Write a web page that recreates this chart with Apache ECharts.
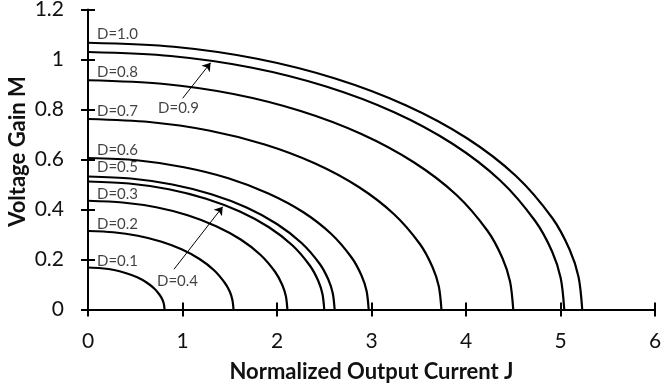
<!DOCTYPE html>
<html>
<head>
<meta charset="utf-8">
<script src="https://cdn.jsdelivr.net/npm/echarts@6/dist/echarts.min.js"></script>
<style>
html,body{margin:0;padding:0;background:#fff;}
#chart{width:661px;height:392px;}
</style>
</head>
<body>
<div id="chart"></div>
<script>
// ---- Data ----
const seriesNames = ['D=0.1','D=0.2','D=0.3','D=0.4','D=0.5','D=0.6','D=0.7','D=0.8','D=0.9','D=1.0'];

const curveD01 = [[0,0.168],[0.141,0.165],[0.277,0.158],[0.405,0.145],[0.521,0.129],[0.620,0.108],[0.701,0.084],[0.761,0.057],[0.789,0.038],[0.804,0.020],[0.81,0]];
const curveD02 = [[0,0.314],[0.267,0.309],[0.527,0.295],[0.770,0.272],[0.990,0.241],[1.180,0.202],[1.334,0.157],[1.447,0.107],[1.501,0.071],[1.528,0.038],[1.54,0]];
const curveD03 = [[0,0.435],[0.366,0.428],[0.722,0.409],[1.055,0.377],[1.356,0.333],[1.616,0.280],[1.827,0.218],[1.983,0.149],[2.056,0.098],[2.094,0.053],[2.11,0]];
const curveD04 = [[0,0.512],[0.434,0.504],[0.855,0.481],[1.250,0.443],[1.607,0.392],[1.915,0.329],[2.165,0.256],[2.349,0.175],[2.436,0.115],[2.481,0.062],[2.50,0]];
const curveD05 = [[0,0.532],[0.453,0.524],[0.893,0.500],[1.305,0.461],[1.678,0.408],[1.999,0.342],[2.260,0.266],[2.453,0.182],[2.543,0.120],[2.590,0.065],[2.61,0]];
const curveD06 = [[0,0.606],[0.516,0.597],[1.016,0.569],[1.485,0.525],[1.909,0.464],[2.275,0.390],[2.572,0.303],[2.791,0.207],[2.894,0.136],[2.948,0.074],[2.97,0]];
const curveD07 = [[0,0.762],[0.649,0.750],[1.279,0.716],[1.870,0.660],[2.404,0.584],[2.865,0.490],[3.239,0.381],[3.514,0.261],[3.644,0.171],[3.712,0.093],[3.74,0]];
const curveD08 = [[0,0.917],[0.781,0.903],[1.539,0.862],[2.250,0.794],[2.893,0.702],[3.447,0.589],[3.897,0.459],[4.229,0.314],[4.385,0.206],[4.466,0.112],[4.50,0]];
const curveD09 = [[0,1.030],[0.875,1.014],[1.724,0.968],[2.520,0.892],[3.240,0.789],[3.861,0.662],[4.365,0.515],[4.736,0.352],[4.911,0.232],[5.002,0.126],[5.04,0]];
const curveD10 = [[0,1.067],[0.908,1.051],[1.789,1.003],[2.615,0.924],[3.362,0.817],[4.006,0.686],[4.529,0.534],[4.915,0.365],[5.096,0.240],[5.191,0.130],[5.23,0]];

const curves = [curveD01,curveD02,curveD03,curveD04,curveD05,curveD06,curveD07,curveD08,curveD09,curveD10];

// Curve labels: text with anchor (left edge, vertical centre) in data units
const labelTexts = ['D=1.0','D=0.8','D=0.7','D=0.9','D=0.6','D=0.5','D=0.3','D=0.2','D=0.1','D=0.4'];
const labelJ     = [0.095, 0.095, 0.095, 0.741, 0.095, 0.095, 0.095, 0.095, 0.095, 0.730];
const labelM     = [1.102, 0.950, 0.794, 0.804, 0.636, 0.568, 0.463, 0.342, 0.194, 0.114];

// Arrows (tail -> head) in data units
const arrowD09 = [[1.002,0.845],[1.297,0.987]];
const arrowD04 = [[0.910,0.161],[1.425,0.411]];

const xMin = 0, xMax = 6, xStep = 1;
const yMin = 0, yMax = 1.2, yStep = 0.2;
const xTitle = 'Normalized Output Current J';
const yTitle = 'Voltage Gain M';

// ---- Chart ----
const FONT = 'Lato';
const chart = echarts.init(document.getElementById('chart'), null, {renderer:'canvas'});

const axisLine = {show:true, onZero:false, lineStyle:{color:'#000', width:2}};

const series = curves.map((c,i)=>({
  name: seriesNames[i],
  type:'line',
  xAxisIndex:0, yAxisIndex:0,
  data:c,
  showSymbol:false,
  symbol:'none',
  smooth:0.3,
  lineStyle:{color:'#000', width:2.2},
  silent:true,
  z:3
}));

series.push({
  type:'scatter',
  xAxisIndex:0, yAxisIndex:0,
  symbolSize:0,
  silent:true,
  data: labelTexts.map((t,i)=>({name:t, value:[labelJ[i], labelM[i]]})),
  label:{show:true, position:'right', distance:0, formatter:'{b}', color:'#111', fontFamily:FONT, fontSize:15},
  z:5
});

series.push({
  type:'lines',
  coordinateSystem:'cartesian2d',
  xAxisIndex:0, yAxisIndex:0,
  silent:true,
  symbol:['none','arrow'],
  symbolSize:8,
  lineStyle:{color:'#000', width:1, opacity:1, curveness:0},
  data:[{coords:arrowD09},{coords:arrowD04}],
  z:6
});

const option = {
  animation:false,
  backgroundColor:'#fff',
  grid:{left:88, right:6, top:9.5, bottom:82.5, containLabel:false, outerBoundsMode:'none'},
  xAxis:[
    {type:'value', min:xMin, max:xMax, interval:xStep, position:'bottom',
     name:xTitle, nameLocation:'middle', nameGap:51, nameMoveOverlap:false,
     nameTextStyle:{fontFamily:FONT, fontWeight:'bold', fontSize:22, color:'#111'},
     axisLine:axisLine,
     axisTick:{show:true, inside:false, length:7, lineStyle:{color:'#000', width:2}},
     axisLabel:{margin:21, fontFamily:FONT, fontSize:21, color:'#111'},
     splitLine:{show:false}},
    {type:'value', min:xMin, max:xMax, interval:xStep, position:'bottom',
     axisLine:{show:false}, axisLabel:{show:false}, splitLine:{show:false},
     axisTick:{show:true, inside:true, length:7, lineStyle:{color:'#000', width:2}}}
  ],
  yAxis:[
    {type:'value', min:yMin, max:yMax, interval:yStep, position:'left',
     name:yTitle, nameLocation:'middle', nameGap:59, nameMoveOverlap:false,
     nameTextStyle:{fontFamily:FONT, fontWeight:'bold', fontSize:22, color:'#111', padding:[0,0,0,16]},
     axisLine:axisLine,
     axisTick:{show:true, inside:false, length:7, lineStyle:{color:'#000', width:2}},
     axisLabel:{margin:24, fontFamily:FONT, fontSize:21, color:'#111',
       formatter:v=>String(Math.round(v*10)/10)},
     splitLine:{show:false}},
    {type:'value', min:yMin, max:yMax, interval:yStep, position:'left',
     axisLine:{show:false}, axisLabel:{show:false}, splitLine:{show:false},
     axisTick:{show:true, inside:true, length:7, lineStyle:{color:'#000', width:2}}}
  ],
  series:series
};
chart.setOption(option);
</script>
</body>
</html>
